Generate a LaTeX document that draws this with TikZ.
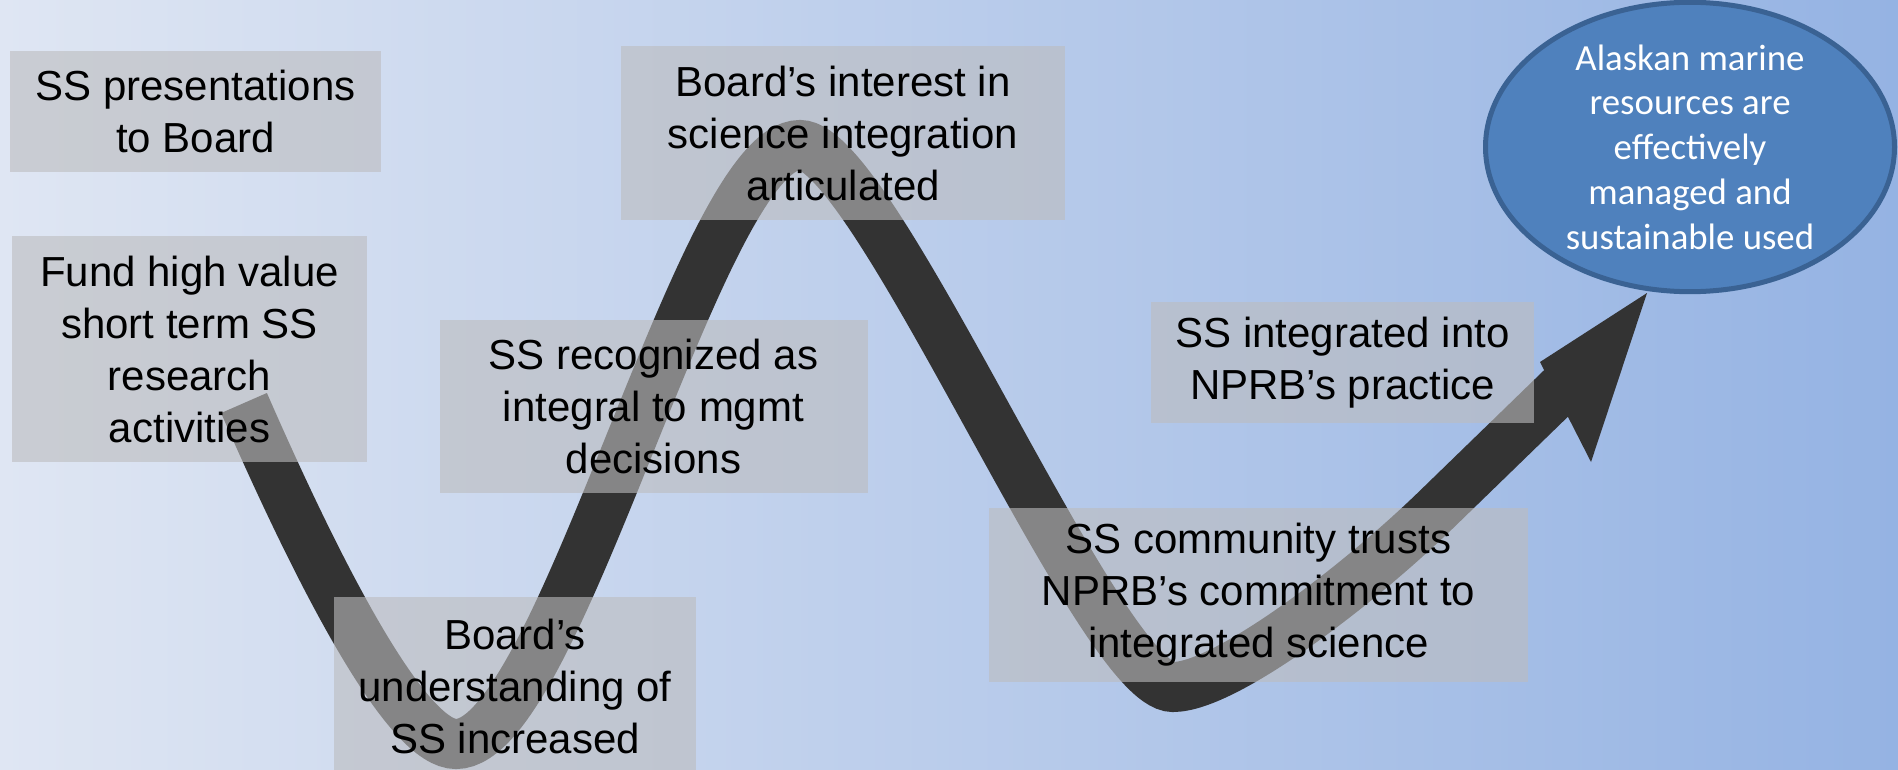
\documentclass[tikz,border=0pt]{standalone}
\usepackage{fontspec}
\setmainfont{Liberation Sans}
\newfontfamily\calibri{Carlito}
\usetikzlibrary{shapes.geometric}
\definecolor{bgleft}{RGB}{223,230,243}
\definecolor{bgmid}{RGB}{196,211,238}
\definecolor{bgright}{RGB}{149,179,227}
\definecolor{boxgray}{RGB}{188,188,190}
\definecolor{pathgray}{RGB}{51,51,51}
\definecolor{goalfill}{RGB}{79,129,189}
\definecolor{goalline}{RGB}{58,98,147}
\tikzstyle{stage} = [fill=boxgray,fill opacity=0.6,text opacity=1,align=center,inner sep=0pt,font=\fontsize{42}{52}\selectfont]
\tikzstyle{goal} = [ellipse,fill=goalfill,draw=goalline,line width=5pt,text=white,align=center,inner sep=0pt,font=\calibri\fontsize{36.8}{44.7}\selectfont]
\tikzset{>=latex}

\begin{document}
\begin{tikzpicture}[x=1pt,y=-1pt]
    \useasboundingbox (0,0) rectangle (1898,770);
    \shade [left color=bgleft,middle color=bgmid,right color=bgright] (0,0) rectangle (1898,770);
    % the winding path
    \coordinate (tail) at (244,403);
    \coordinate (dip1) at (456,744);
    \coordinate (crest) at (800,145);
    \coordinate (dip2) at (1173,687);
    \coordinate (bend) at (1439,507);
    \coordinate (neck) at (1575,375);
    \coordinate (tip) at (1647,293);
    \draw [line width=50pt,pathgray] (tail) .. controls (330,600) and (410,744) .. (dip1)
      .. controls (560,744) and (700,145) .. (crest)
      .. controls (875,145) and (1100,687) .. (dip2)
      .. controls (1225,687) and (1357,587) .. (bend) -- (neck);
    \fill [pathgray] (tip) -- (1540,362) -- (1591,462) -- cycle;
    % stages
    \node [stage,minimum width=371,minimum height=121] (pres) at (195.5,111.5) {SS presentations\\to Board};
    \node [stage,minimum width=355,minimum height=226] (fund) at (189.5,349) {Fund high value\\short term SS\\research\\activities};
    \node [stage,minimum width=444,minimum height=174] (interest) at (843,133) {Board’s interest in\\science integration\\articulated};
    \node [stage,minimum width=428,minimum height=173] (recog) at (653.5,406.5) {SS recognized as\\integral to mgmt\\decisions};
    \node [stage,minimum width=362,minimum height=178] (under) at (515,686) {Board’s\\understanding of\\SS increased};
    \node [stage,minimum width=383,minimum height=121] (practice) at (1342.5,362.5) {SS integrated into\\NPRB’s practice};
    \node [stage,minimum width=539,minimum height=174] (trust) at (1258.5,595) {SS community trusts\\NPRB’s commitment to\\integrated science};
    \node [goal,minimum width=409,minimum height=271] (alaska) at (1690,147) {Alaskan marine\\resources are\\effectively\\managed and\\sustainable used};
\end{tikzpicture}
\end{document}
